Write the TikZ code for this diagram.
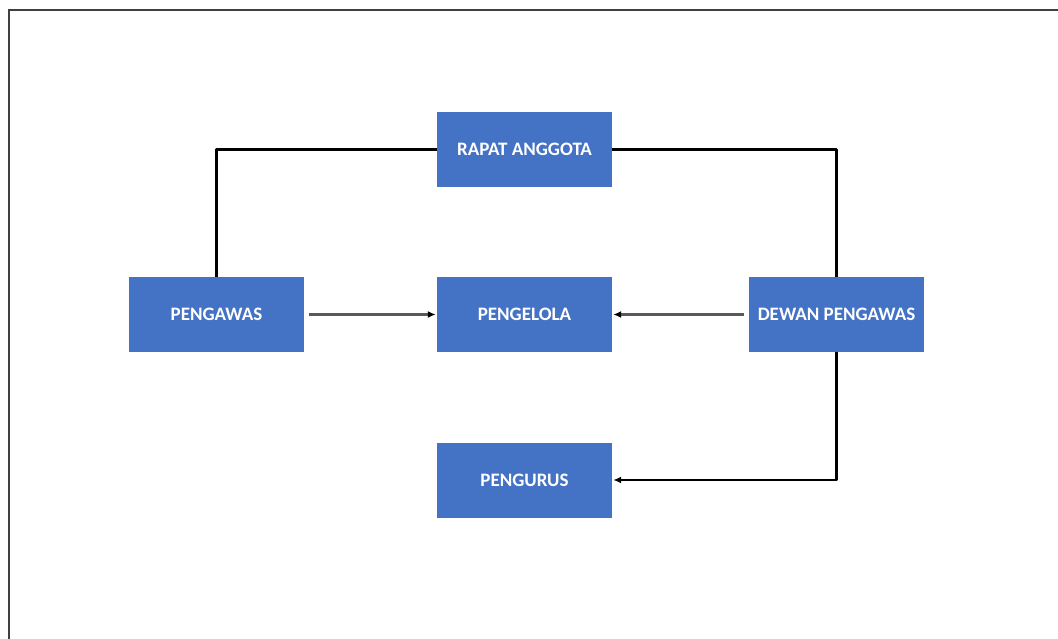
\documentclass[tikz,border=0pt]{standalone}
\usepackage{fontspec}
\setmainfont{Carlito}
\usetikzlibrary{arrows.meta}
\definecolor{boxblue}{HTML}{4472C4}
\definecolor{arrowgray}{HTML}{595959}
\begin{document}
\begin{tikzpicture}[x=1pt,y=-1pt,
  orgbox/.style={fill=boxblue,draw=none,minimum width=175pt,minimum height=75pt,inner sep=0pt,
    text=white,font=\fontsize{19}{22}\selectfont\bfseries},
  blackline/.style={line width=2.6pt,black,line join=round},
  grayarrow/.style={line width=2.2pt,arrowgray,-{Latex[length=8pt,width=7pt,black]}},
  blackarrow/.style={line width=2.6pt,black,line join=round,-{Latex[length=8pt,width=7pt]}}]
\useasboundingbox (0,0) rectangle (1058,639);
\draw[line width=1.6pt,black!75] (9,639) -- (9,10) -- (1058,10);
\node[orgbox] (rapat) at (524.5,149.5) {RAPAT ANGGOTA};
\node[orgbox] (pengawas) at (216.5,314.5) {PENGAWAS};
\node[orgbox] (pengelola) at (524.5,314.5) {PENGELOLA};
\node[orgbox] (dewan) at (836.5,314.5) {DEWAN PENGAWAS};
\node[orgbox] (pengurus) at (524.5,480) {PENGURUS};
\draw[blackline] (rapat.west) -| (pengawas.north);
\draw[blackline] (rapat.east) -| (dewan.north);
\draw[grayarrow,shorten <=5pt,shorten >=1pt] (pengawas.east) -- (pengelola.west);
\draw[grayarrow,shorten <=5pt,shorten >=1pt] (dewan.west) -- (pengelola.east);
\draw[blackarrow,shorten >=1pt] (dewan.south) |- (pengurus.east);
\end{tikzpicture}
\end{document}
